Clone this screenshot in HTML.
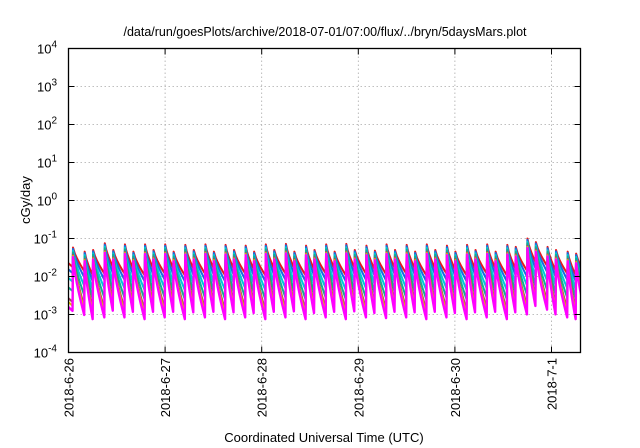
<!DOCTYPE html>
<html><head><meta charset="utf-8">
<style>
html,body{margin:0;padding:0;background:#fff;}
svg{display:block;font-family:"Liberation Sans",sans-serif;}
</style></head>
<body>
<svg id="chart" width="640" height="448" viewBox="0 0 640 448">
<rect width="640" height="448" fill="#fff"/>
<text x="325" y="36" font-size="12.5" text-anchor="middle">/data/run/goesPlots/archive/2018-07-01/07:00/flux/../bryn/5daysMars.plot</text>
<g id="grid"></g>
<g id="series"></g>
<rect x="68.5" y="48.5" width="512" height="304" fill="none" stroke="#000" stroke-width="1.3"/>
<g id="axes"></g>
<text transform="translate(30,200) rotate(-90)" font-size="13" text-anchor="middle">cGy/day</text>
<text x="324" y="442" font-size="13" text-anchor="middle">Coordinated Universal Time (UTC)</text>
</svg>
<script>
const dayLabels = ["2018-6-26","2018-6-27","2018-6-28","2018-6-29","2018-6-30","2018-7-1"];
const yExponents = [-4,-3,-2,-1,0,1,2,3,4];
const peakTimes = [1.0,3.9,6.0,8.9,11.0,13.9,16.0,18.9,21.0,23.9,26.0,28.9,31.0,33.9,36.0,38.9,41.0,43.9,46.0,48.9,51.0,53.9,56.0,58.9,61.0,63.9,66.0,68.9,71.0,73.9,76.0,78.9,81.0,83.9,86.0,88.9,91.0,93.9,96.0,98.9,101.0,103.9,106.0,108.9,111.0,113.9,116.0,118.9,121.0,123.9,126.0];
const peakVals = [0.058,0.045,0.05,0.075,0.05,0.07,0.045,0.07,0.05,0.07,0.045,0.068,0.05,0.07,0.045,0.068,0.05,0.065,0.045,0.07,0.05,0.072,0.045,0.065,0.05,0.07,0.045,0.072,0.05,0.065,0.048,0.07,0.05,0.068,0.045,0.07,0.05,0.065,0.045,0.068,0.05,0.07,0.045,0.068,0.06,0.1,0.08,0.06,0.05,0.045,0.04];
const seriesNames = ["red","blue","cyan","teal","brown","yellow","magenta"];
const seriesColors = ["#e8191c","#1a6be0","#00c8d8","#10b090","#a04860","#e0c000","#ff00ff"];
const seriesPeakScale = [1.0,0.92,0.82,0.74,0.64,0.6,0.56];
const seriesTroughScale = [0.24,0.18,0.12,0.075,0.045,0.038,0.03];

const X0=68.5, X1=580.5, Y0=352.5, Y1=48.5, DAYPX=96.6;
const xScale = h => X0 + h/24*DAYPX;
const yScale = v => Y0 - (Math.log10(v)+4)*38;
const ns="http://www.w3.org/2000/svg";
const grid=document.getElementById('grid'), axes=document.getElementById('axes'), sg=document.getElementById('series');
function mk(tag,attrs,parent){const e=document.createElementNS(ns,tag);for(const k in attrs)e.setAttribute(k,attrs[k]);parent.appendChild(e);return e;}

yExponents.forEach(p=>{
  const y=yScale(Math.pow(10,p));
  if(p>-4&&p<4){
    const g=mk('line',{x1:X0,x2:X1,y1:y,y2:y,stroke:'#aaa','stroke-width':0.8,'stroke-dasharray':'1.5,2.5'},grid);
    
    
  }
  const t1=mk('line',{x1:X0,x2:X0+6,y1:y,y2:y,stroke:'#000'},axes);
  
  
  const t2=mk('line',{x1:X1,x2:X1-6,y1:y,y2:y,stroke:'#000'},axes);
  
  
  const tx=mk('text',{x:57,y:y+5,'font-size':13,'text-anchor':'end'},axes);
  
  
  tx.textContent='10';
  const sup=mk('tspan',{dy:-6,'font-size':10},tx); sup.textContent=String(p);
});
dayLabels.forEach((lab,i)=>{
  const x=xScale(i*24);
  if(i>0){
    const g=mk('line',{x1:x,x2:x,y1:Y1,y2:Y0,stroke:'#aaa','stroke-width':0.8,'stroke-dasharray':'1.5,2.5'},grid);
    
    
  }
  const t1=mk('line',{x1:x,x2:x,y1:Y0,y2:Y0-6,stroke:'#000'},axes);
  
  
  const t2=mk('line',{x1:x,x2:x,y1:Y1,y2:Y1+6,stroke:'#000'},axes);
  
  
  const tx=mk('text',{transform:`translate(${x+5},358) rotate(-90)`,'font-size':13,'text-anchor':'end'},axes);
  
  
  tx.textContent=lab;
});

const cp=mk('clipPath',{id:'clip'},sg);
mk('rect',{x:X0,y:Y1,width:X1-X0,height:Y0-Y1},cp);
seriesNames.forEach((nm,s)=>{
  const n=peakTimes.length;
  const firstTrough=peakVals[0]*seriesPeakScale[s]*seriesTroughScale[s]*1.6;
  let d=`M${X0},${yScale(firstTrough)} L${xScale(peakTimes[0])},${yScale(firstTrough*0.8)}`;
  for(let k=0;k<n;k++){
    const pv=peakVals[k]*seriesPeakScale[s];
    const tv=peakVals[k]*seriesPeakScale[s]*seriesTroughScale[s];
    const t0=peakTimes[k]+0.12;
    const t1=k+1<n ? peakTimes[k+1] : peakTimes[k]+2.9;
    d+=` L${xScale(t0)},${yScale(pv)}`;
    const lp=Math.log10(pv), lt=Math.log10(tv);
    for(let j=1;j<=6;j++){
      const u=j/6;
      const f=Math.pow(u,0.75);
      d+=` L${xScale(t0+(t1-t0)*u)},${yScale(Math.pow(10,lp+(lt-lp)*f))}`;
    }
  }
  const p=mk('path',{d:d,fill:'none',stroke:seriesColors[s],'stroke-width':s===6?2.4:2,'stroke-linejoin':'round','clip-path':'url(#clip)'},sg);
  
  
});
</script>
</body></html>
